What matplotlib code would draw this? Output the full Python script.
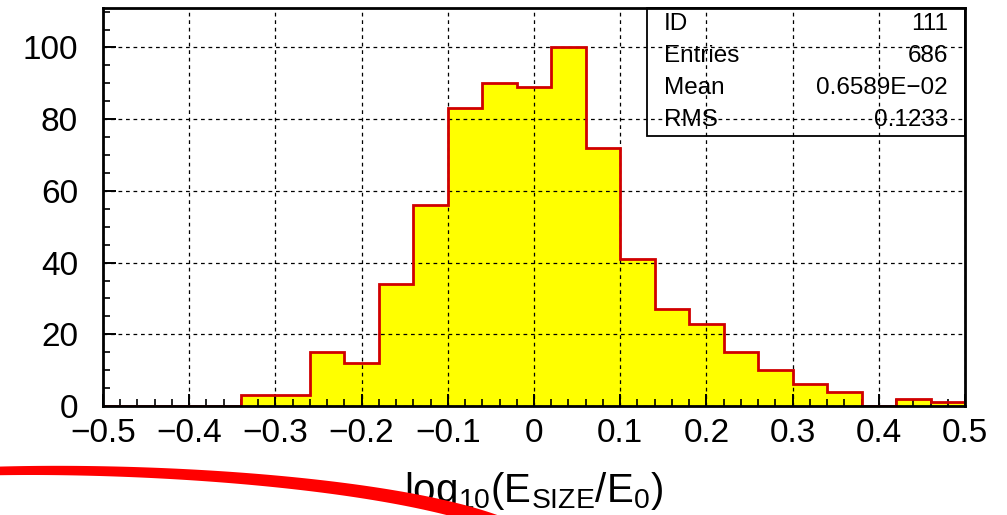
import numpy as np
import matplotlib
matplotlib.use("Agg")
import matplotlib.pyplot as plt
from matplotlib import font_manager
from matplotlib.patches import Rectangle, Polygon
from matplotlib.ticker import MultipleLocator

# Histogram of log10(E_SIZE / E_0), 25 bins of width 0.04
bin_edges = np.linspace(-0.5, 0.5, 26)
counts = [0, 0, 0, 0, 3, 3, 15, 12, 34, 56, 83, 90, 89, 100, 72, 41,
          27, 23, 15, 10, 6, 4, 0, 2, 1]

# Statistics panel
stat_names = ["ID", "Entries", "Mean", "RMS"]
stat_values = ["111", "686", "0.6589E\u221202", "0.1233"]

x_ticks = [-0.5, -0.4, -0.3, -0.2, -0.1, 0, 0.1, 0.2, 0.3, 0.4, 0.5]
x_tick_labels = ["\u22120.5", "\u22120.4", "\u22120.3", "\u22120.2", "\u22120.1",
                 "0", "0.1", "0.2", "0.3", "0.4", "0.5"]
y_ticks = [0, 20, 40, 60, 80, 100]

installed = {f.name for f in font_manager.fontManager.ttflist}
narrow = "Liberation Sans Narrow" in installed
title_font = "Liberation Sans Narrow" if narrow else "Liberation Sans"
title_size = 34 if narrow else 29

plt.rcParams["font.family"] = ["Liberation Sans", "DejaVu Sans"]
plt.rcParams["mathtext.fontset"] = "custom"
plt.rcParams["mathtext.rm"] = title_font
plt.rcParams["mathtext.it"] = title_font

W, H = 1007, 515
fig = plt.figure(figsize=(W / 100, H / 100), dpi=100)
ax = fig.add_axes([103 / W, 1 - 406 / H, (965 - 103) / W, (406 - 8) / H])

# filled histogram and its outline
ax.stairs(counts, bin_edges, fill=True, color="#ffff00", zorder=1)
ax.stairs(counts, bin_edges, baseline=0, color="#d00000", linewidth=2.0, zorder=3)

ax.set_xlim(-0.5, 0.5)
ax.set_ylim(0, 111)

ax.set_xticks(x_ticks)
ax.set_xticklabels(x_tick_labels)
ax.set_yticks(y_ticks)
ax.xaxis.set_minor_locator(MultipleLocator(0.02))
ax.yaxis.set_minor_locator(MultipleLocator(5))

ax.tick_params(axis="both", which="both", direction="in", colors="black",
               top=False, right=False)
ax.tick_params(axis="both", which="major", length=9, width=1.4)
ax.tick_params(axis="both", which="minor", length=5, width=1.2)
ax.tick_params(axis="x", which="major", labelsize=24, pad=9)
ax.tick_params(axis="y", which="major", labelsize=24, pad=18)

ax.grid(True, which="major", color="black", linestyle=(0, (3, 3)), linewidth=0.9)
ax.set_axisbelow(False)

for sp in ax.spines.values():
    sp.set_linewidth(2.0)
    sp.set_color("black")
    sp.set_zorder(4)

# statistics box
box_left = (647 - 103) / (965 - 103)
box_bottom = (406 - 136) / (406 - 8)
ax.add_patch(Rectangle((box_left, box_bottom), 1 - box_left, 1 - box_bottom,
                       transform=ax.transAxes, fill=False, edgecolor="black",
                       linewidth=1.3, zorder=5, clip_on=False))
row_h = (1 - box_bottom) / len(stat_names)
for i, (name, val) in enumerate(zip(stat_names, stat_values)):
    yc = 1 - row_h * (i + 0.5)
    ax.text(box_left + 17 / 862, yc, name, transform=ax.transAxes,
            ha="left", va="center", fontsize=17.5, zorder=6)
    ax.text(1 - 17 / 862, yc, val, transform=ax.transAxes,
            ha="right", va="center", fontsize=17.5, zorder=6)

# axis title
fig.text(533 / W, 1 - 502 / H,
         r"$\mathrm{log}_{10}(\mathrm{E}_{\mathrm{SIZE}}/\mathrm{E}_{0})$",
         ha="center", va="baseline", fontsize=title_size)

# red brush stroke across the lower left: a cubic curve (in pixels from the
# top-left corner) widened into a band that thickens toward its right end
ctrl = np.array([(-5, 471), (170, 467), (400, 485), (500, 524)], dtype=float)
t = np.linspace(0, 1, 120)[:, None]
bern = np.hstack([(1 - t) ** 3, 3 * (1 - t) ** 2 * t, 3 * (1 - t) * t ** 2, t ** 3])
centre = bern @ ctrl
dbern = np.hstack([-3 * (1 - t) ** 2, 3 * (1 - t) ** 2 - 6 * (1 - t) * t,
                   6 * (1 - t) * t - 3 * t ** 2, 3 * t ** 2])
tangent = dbern @ ctrl
tangent /= np.linalg.norm(tangent, axis=1, keepdims=True)
normal = np.column_stack([-tangent[:, 1], tangent[:, 0]])
half_w = (4.3 + 3.2 * t[:, 0])[:, None]
band = np.vstack([centre + normal * half_w, (centre - normal * half_w)[::-1]])
band_fig = np.column_stack([band[:, 0] / W, 1 - band[:, 1] / H])
fig.add_artist(Polygon(band_fig, closed=True, transform=fig.transFigure,
                       facecolor="#ff0000", edgecolor="none", zorder=10))

fig.savefig("out.png", dpi=100)
